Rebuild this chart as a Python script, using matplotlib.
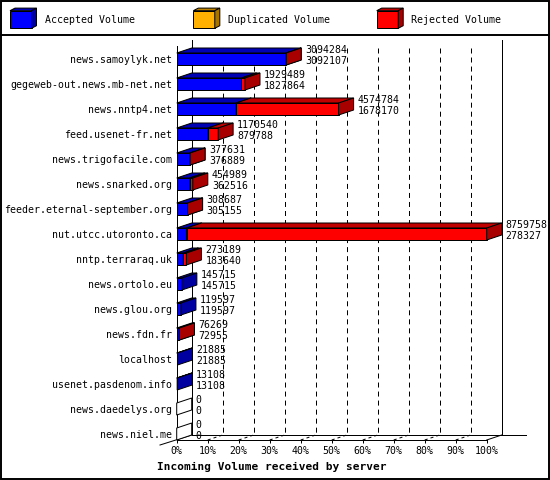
import matplotlib
matplotlib.use("Agg")
import matplotlib.pyplot as plt
from matplotlib.patches import Polygon, Rectangle

# ---------------- data ----------------
servers = ["news.samoylyk.net", "gegeweb-out.news.mb-net.net", "news.nntp4.net",
           "feed.usenet-fr.net", "news.trigofacile.com", "news.snarked.org",
           "feeder.eternal-september.org", "nut.utcc.utoronto.ca", "nntp.terraraq.uk",
           "news.ortolo.eu", "news.glou.org", "news.fdn.fr", "localhost",
           "usenet.pasdenom.info", "news.daedelys.org", "news.niel.me"]
total_volume = [3094284, 1929489, 4574784, 1170540, 377631, 454989, 308687, 8759758,
                273189, 145715, 119597, 76269, 21885, 13108, 0, 0]
accepted_volume = [3092107, 1827864, 1678170, 879788, 376889, 362516, 305155, 278327,
                   183640, 145715, 119597, 72955, 21885, 13108, 0, 0]
duplicated_volume = [0] * 16
series_names = ["Accepted Volume", "Duplicated Volume", "Rejected Volume"]
pct_ticks = [0, 10, 20, 30, 40, 50, 60, 70, 80, 90, 100]
pct_labels = ["0%", "10%", "20%", "30%", "40%", "50%", "60%", "70%", "80%", "90%", "100%"]
x_title = "Incoming Volume received by server"

rejected_volume = [t - a - d for t, a, d in zip(total_volume, accepted_volume, duplicated_volume)]

# ---------------- style / layout ----------------
plt.rcParams['lines.scale_dashes'] = False
FONT = "DejaVu Sans Mono"
FS = 7.1
LW = 0.72
W, H, DPI = 550, 480, 100
X0, X1 = 176.7, 486.7
Y_TOP, Y_BOT = 46, 440
ROW0, ROW_STEP = 59, 25
DEPTH_X, DEPTH_Y = 15, 5
BAR_H = 12
WALL_TOP = 40

colors = [("#0000ff", "#0000b4", "#0000a0"),
          ("#ffb000", "#c08400", "#a87400"),
          ("#ff0000", "#c00000", "#a80000")]

fig = plt.figure(figsize=(W / DPI, H / DPI), dpi=DPI)
fig.patch.set_facecolor("white")

ov = fig.add_axes([0, 0, 1, 1], zorder=0)
ov.set_xlim(0, W)
ov.set_ylim(H, 0)
ov.axis("off")

ax = fig.add_axes([X0 / W, 1 - Y_BOT / H, (X1 - X0) / W, (Y_BOT - Y_TOP) / H], zorder=1)
ax.patch.set_visible(False)
ax.set_xlim(0, 100)
y_bottom = (Y_BOT - ROW0) / ROW_STEP
ax.set_ylim(y_bottom, (Y_TOP - ROW0) / ROW_STEP)
pxx = 100 / (X1 - X0)
pxy = 1 / ROW_STEP
DX = DEPTH_X * pxx
DY = -DEPTH_Y * pxy
HH = BAR_H / 2 * pxy
y_wall_top = (WALL_TOP - ROW0) / ROW_STEP
y_floor_back = y_bottom + DY

for s in ["top", "right"]:
    ax.spines[s].set_visible(False)
for s in ["left", "bottom"]:
    ax.spines[s].set_linewidth(LW)

# back wall
ax.plot([DX, DX], [y_wall_top, y_floor_back], color="black", lw=LW, clip_on=False, zorder=1)
ax.plot([100 + DX, 100 + DX], [y_wall_top, y_floor_back], color="black", lw=LW, clip_on=False, zorder=1)
for p in pct_ticks[1:-1]:
    ax.plot([p + DX, p + DX], [y_wall_top + 8 * pxy, y_floor_back], color="black", lw=LW,
            ls=(0, (3.6, 2.9)), clip_on=False, zorder=1)
    ax.plot([p, p + DX], [y_bottom, y_floor_back], color="black", lw=LW,
            ls=(0, (2.2, 2.2)), clip_on=False, zorder=1)
# floor
ax.plot([DX, (526 - X0) * pxx], [y_floor_back, y_floor_back], color="black", lw=LW, clip_on=False, zorder=1)
ax.plot([100, 100 + DX], [y_bottom, y_floor_back], color="black", lw=LW, clip_on=False, zorder=1)
ax.plot([(160 - X0) * pxx, DX], [y_bottom + 5 * pxy, y_floor_back], color="black", lw=LW,
        clip_on=False, zorder=1)

# bars
max_total = max(total_volume)
z = 2
for i in range(len(servers)):
    y = i
    segs = [accepted_volume[i], duplicated_volume[i], rejected_volume[i]]
    start = 0.0
    if total_volume[i] == 0:
        side = [(0, y - HH), (0, y + HH), (DX, y + HH + DY), (DX, y - HH + DY)]
        ax.add_patch(Polygon(side, closed=True, facecolor="white", edgecolor="black",
                             lw=LW, clip_on=False, zorder=z))
        z += 1
    for k, v in enumerate(segs):
        if v <= 0:
            continue
        w = v / max_total * 100
        x0, x1 = start, start + w
        fc, tc, sc = colors[k]
        front = [(x0, y - HH), (x1, y - HH), (x1, y + HH), (x0, y + HH)]
        top = [(x0, y - HH), (x1, y - HH), (x1 + DX, y - HH + DY), (x0 + DX, y - HH + DY)]
        side = [(x1, y - HH), (x1, y + HH), (x1 + DX, y + HH + DY), (x1 + DX, y - HH + DY)]
        for poly, c in ((front, fc), (top, tc), (side, sc)):
            ax.add_patch(Polygon(poly, closed=True, facecolor=c, edgecolor="black",
                                 lw=LW, joinstyle="miter", clip_on=False, zorder=z))
        z += 1
        start = x1
    xt = total_volume[i] / max_total * 100 + DX + 4 * pxx
    ax.text(xt, y - 9 * pxy, f"{total_volume[i]}", fontfamily=FONT, fontsize=FS,
            ha="left", va="center", clip_on=False, zorder=100)
    ax.text(xt, y + 2.2 * pxy, f"{accepted_volume[i]}", fontfamily=FONT, fontsize=FS,
            ha="left", va="center", clip_on=False, zorder=100)

# axes ticks / labels
ax.set_yticks(range(len(servers)))
ax.set_yticklabels(servers, fontfamily=FONT, fontsize=FS)
ax.tick_params(axis="y", length=0, pad=3.4)
ax.set_xticks(pct_ticks)
ax.set_xticklabels([])
ax.tick_params(axis="x", length=2.3, width=LW, direction="out")
for p, lab in zip(pct_ticks, pct_labels):
    ax.text(p, (451.5 - ROW0) / ROW_STEP, lab, fontfamily=FONT, fontsize=FS,
            ha="center", va="center", clip_on=False)

ov.text(156.7, 467, x_title, fontfamily=FONT, fontsize=8, fontweight="bold",
        ha="left", va="center")

# legend
leg_x = [10, 193.3, 376.7]
for (fc, tc, sc), name, lx in zip(colors, series_names, leg_x):
    fx0, fx1, fy0, fy1 = lx, lx + 21.5, 10.7, 28.3
    ddx, ddy = 5, -2.6
    ov.add_patch(Polygon([(fx0, fy0), (fx1, fy0), (fx1, fy1), (fx0, fy1)], closed=True,
                         facecolor=fc, edgecolor="black", lw=LW))
    ov.add_patch(Polygon([(fx0, fy0), (fx1, fy0), (fx1 + ddx, fy0 + ddy), (fx0 + ddx, fy0 + ddy)],
                         closed=True, facecolor=tc, edgecolor="black", lw=LW))
    ov.add_patch(Polygon([(fx1, fy0), (fx1, fy1), (fx1 + ddx, fy1 + ddy), (fx1 + ddx, fy0 + ddy)],
                         closed=True, facecolor=sc, edgecolor="black", lw=LW))
    ov.text(lx + 34.7, 20.3, name, fontfamily=FONT, fontsize=FS, ha="left", va="center")

ov.plot([0, W], [35, 35], color="black", lw=1.4)
ov.add_patch(Rectangle((0.7, 0.7), W - 1.4, H - 1.4, fill=False, edgecolor="black", lw=1.4))

fig.savefig("out.png", dpi=DPI, facecolor="white")
